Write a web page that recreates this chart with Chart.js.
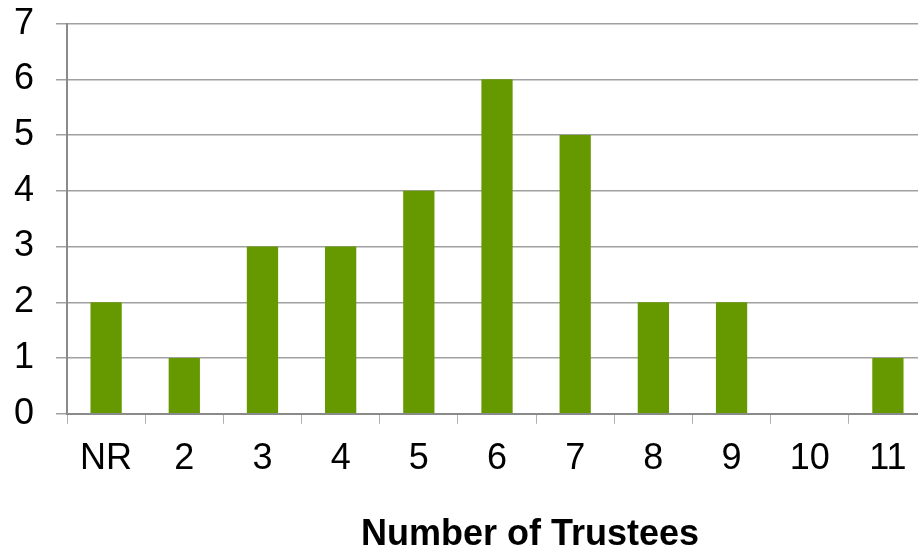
<!DOCTYPE html>
<html>
<head>
<meta charset="utf-8">
<script src="https://cdn.jsdelivr.net/npm/chart.js@4"></script>
<style>
  html, body { margin: 0; padding: 0; background: #fff; overflow: hidden; }
  #wrap { width: 951px; height: 573px; margin-left: -21px; margin-top: -20px; }
</style>
</head>
<body>
<div id="wrap"><canvas id="chart"></canvas></div>
<script>
const categories = ['NR', '2', '3', '4', '5', '6', '7', '8', '9', '10', '11']
const trusteeCounts = [2, 1, 3, 3, 4, 6, 5, 2, 2, 0, 1]
const axisTitle = 'Number of Trustees'

// bottom title is off-centre in the original, so draw it ourselves
const bottomTitle = {
  id: 'bottomTitle',
  afterDraw(chart) {
    const ctx = chart.ctx
    ctx.save()
    ctx.font = 'bold 36px "Liberation Sans", Arial, sans-serif'
    ctx.fillStyle = '#000'
    ctx.textAlign = 'center'
    ctx.textBaseline = 'middle'
    ctx.fillText(axisTitle, 530 + 21, 535 + 20)
    ctx.restore()
  }
}

new Chart(document.getElementById('chart'), {
  type: 'bar',
  data: {
    labels: categories,
    datasets: [{
      data: trusteeCounts,
      backgroundColor: '#669900',
      borderWidth: 0,
      categoryPercentage: 1,
      barPercentage: 0.4
    }]
  },
  options: {
    responsive: true,
    maintainAspectRatio: false,
    animation: false,
    layout: {
      padding: { left: 13, right: 3, top: 1, bottom: 58 }
    },
    plugins: {
      legend: { display: false },
      tooltip: { enabled: false }
    },
    scales: {
      x: {
        grid: {
          offset: true,
          drawOnChartArea: false,
          drawTicks: true,
          tickLength: 10,
          color: '#b0b0b0'
        },
        border: { display: true, color: '#8a8a8a', width: 2 },
        ticks: {
          color: '#000',
          padding: 14,
          font: { family: '"Liberation Sans", Arial, sans-serif', size: 36 }
        }
      },
      y: {
        min: 0,
        max: 7,
        grid: {
          color: '#a0a0a0',
          lineWidth: 1.5,
          tickLength: 11
        },
        border: { display: true, color: '#8a8a8a', width: 2 },
        ticks: {
          stepSize: 1,
          color: '#000',
          padding: 22,
          font: { family: '"Liberation Sans", Arial, sans-serif', size: 36 }
        }
      }
    }
  },
  plugins: [bottomTitle]
})
</script>
</body>
</html>
